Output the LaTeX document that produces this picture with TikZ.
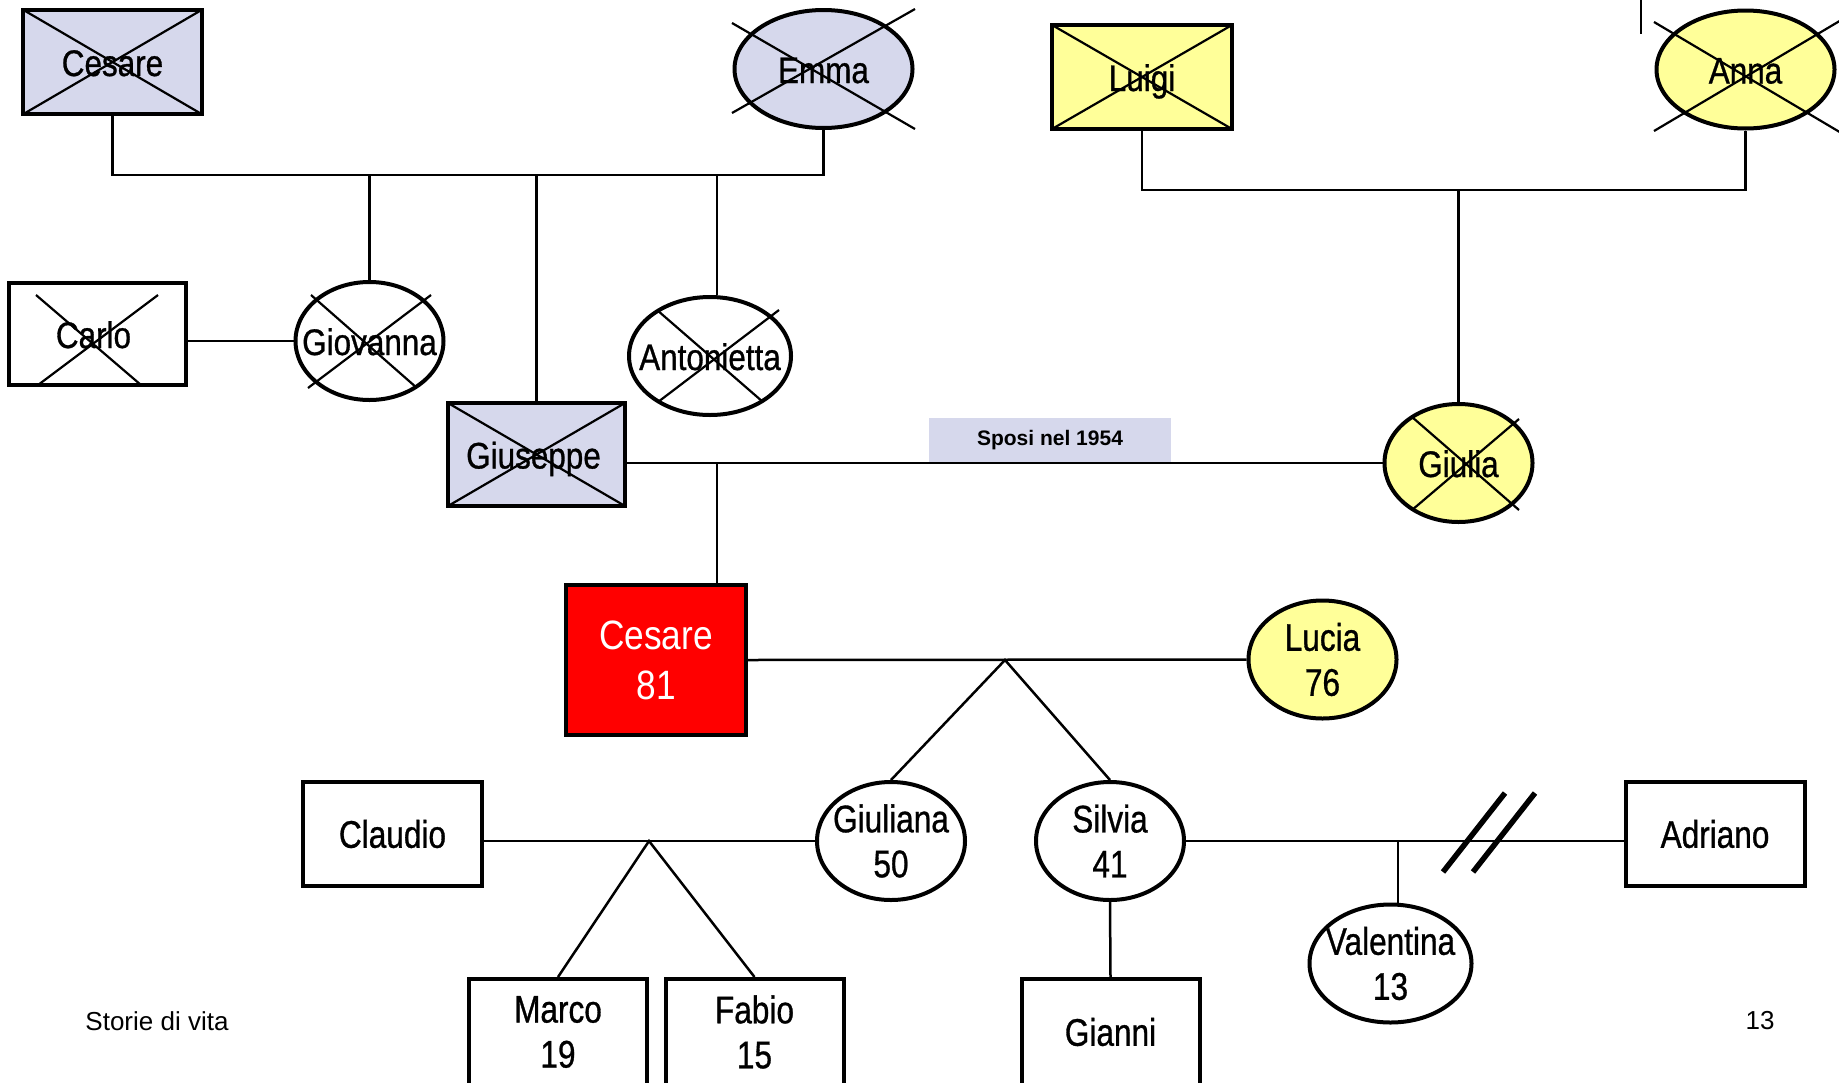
\documentclass[tikz,border=0pt]{standalone}
\usepackage{fontspec}
\setmainfont{Liberation Sans}
\newfontfamily\namefont[FakeStretch=0.85,FakeBold=0.8]{Liberation Sans}
\newfontfamily\lownamefont[FakeStretch=0.82,FakeBold=0.8]{Liberation Sans}
\newfontfamily\redfont[FakeStretch=0.86]{Liberation Sans}
\usetikzlibrary{shapes.geometric,calc}
\definecolor{lav}{RGB}{214,216,236}
\definecolor{yel}{RGB}{255,255,153}
\definecolor{redc}{RGB}{255,0,0}
\begin{document}
\begin{tikzpicture}[x=1pt,y=-1pt,
  male/.style={draw,rectangle,line width=4pt,inner sep=0pt,minimum width=179pt,minimum height=104pt,align=center},
  fem/.style={draw,ellipse,line width=4pt,inner sep=0pt,minimum width=148pt,minimum height=118pt},
  upname/.style={font=\namefont\fontsize{37}{44}\selectfont,inner sep=0pt,text height=28pt,text depth=0pt},
  lowname/.style={font=\lownamefont\fontsize{38.5}{45}\selectfont,inner sep=0pt,align=center},
  conn/.style={line width=2.5pt},
  xline/.style={line width=2.2pt},
  divline/.style={line width=5.5pt},
  small/.style={font=\fontsize{26}{30}\selectfont,inner sep=0pt}
]
\useasboundingbox[fill=white] (0,0) rectangle (1839,1082);

% ---- nodes: shapes ----
\node[male,fill=lav,upname] (cesT) at (112.5,62) {Cesare};
\node[fem,fill=lav,minimum width=178pt] (emma) at (823.5,69) {};
\node[male,minimum width=177pt,minimum height=102pt] (carlo) at (97.5,334) {};
\node[fem] (giov) at (369.5,341) {};
\node[fem,minimum width=162pt] (anto) at (710,356) {};
\node[male,fill=lav,minimum width=177pt,minimum height=103pt] (gius) at (536.5,454.5) {};
\node[male,fill=yel,minimum width=180pt,upname] (luigi) at (1142,77) {Luigi};
\node[fem,fill=yel,minimum width=178pt] (anna) at (1745.5,69.5) {};
\node[fem,fill=yel] (giulia) at (1458.5,463) {};

\node[male,fill=redc,minimum width=180pt,minimum height=150pt,text=white,
      font=\redfont\fontsize{41}{50}\selectfont] (cesR) at (656,660) {Cesare\\81};
\node[fem,fill=yel] (lucia) at (1322.5,659.5) {};
\node[male,lowname] (claudio) at (392.5,834) {Claudio};
\node[fem] (giuliana) at (891,841) {};
\node[fem] (silvia) at (1110,841) {};
\node[male,lowname] (adriano) at (1715,834) {Adriano};
\node[fem,minimum width=162pt] (valentina) at (1390.5,963.5) {};
\node[male,lowname,minimum width=178pt,minimum height=106pt] (marco) at (558,1032) {Marco\\19};
\node[male,lowname,minimum width=178pt,minimum height=106pt] (fabio) at (754.5,1032) {Fabio\\15};
\node[male,lowname,minimum width=178pt,minimum height=106pt] (gianni) at (1110.5,1032) {Gianni};

% ---- crosses ----
\draw[xline] ([shift={(-89,-52)}]cesT.center) -- ([shift={(89,52)}]cesT.center);
\draw[xline] ([shift={(-89,52)}]cesT.center) -- ([shift={(89,-52)}]cesT.center);
\draw[xline] ([shift={(-91.5,-46)}]emma.center) -- ([shift={(91.5,60)}]emma.center);
\draw[xline] ([shift={(-91.5,44)}]emma.center) -- ([shift={(91.5,-60)}]emma.center);
\draw[xline] ([shift={(-61.5,-39)}]carlo.center) -- ([shift={(43.5,51)}]carlo.center);
\draw[xline] ([shift={(60.5,-39)}]carlo.center) -- ([shift={(-59.5,51)}]carlo.center);
\draw[xline] ([shift={(-58.5,-46)}]giov.center) -- ([shift={(47.5,47)}]giov.center);
\draw[xline] ([shift={(61.5,-46)}]giov.center) -- ([shift={(-61.5,47)}]giov.center);
\draw[xline] ([shift={(-53,-46)}]anto.center) -- ([shift={(53,46)}]anto.center);
\draw[xline] ([shift={(69,-46)}]anto.center) -- ([shift={(-52,46)}]anto.center);
\draw[xline] ([shift={(-88.5,-51.5)}]gius.center) -- ([shift={(88.5,51.5)}]gius.center);
\draw[xline] ([shift={(-88.5,51.5)}]gius.center) -- ([shift={(88.5,-51.5)}]gius.center);
\draw[xline] ([shift={(-90,-52)}]luigi.center) -- ([shift={(90,52)}]luigi.center);
\draw[xline] ([shift={(-90,52)}]luigi.center) -- ([shift={(90,-52)}]luigi.center);
\draw[xline] ([shift={(-91.5,-47.5)}]anna.center) -- ([shift={(100,66)}]anna.center);
\draw[xline] ([shift={(-91.5,61.5)}]anna.center) -- ([shift={(100,-52)}]anna.center);
\draw[xline] ([shift={(-46.5,-46)}]giulia.center) -- ([shift={(60.5,47)}]giulia.center);
\draw[xline] ([shift={(60.5,-44)}]giulia.center) -- ([shift={(-46.5,47)}]giulia.center);

% ---- names drawn over shapes ----
\node[upname] (carloT) at ([xshift=-4pt]carlo.center) {Carlo};
\node[upname] (giusT) at ([xshift=-3pt]gius.center) {Giuseppe};
\node[upname] (emmaT) at (emma) {Emma};
\node[upname] (giovT) at (giov) {Giovanna};
\node[upname] (antoT) at (anto) {Antonietta};
\node[upname] (annaT) at (anna) {Anna};
\node[upname] (giuliaT) at (giulia) {Giulia};
\node[lowname] (luciaT) at (lucia) {Lucia\\76};
\node[lowname] (giulianaT) at (giuliana) {Giuliana\\50};
\node[lowname] (silviaT) at (silvia) {Silvia\\41};
\node[lowname] (valentinaT) at (valentina) {Valentina\\13};

% ---- connectors ----
\coordinate (jA) at (536.5,175);
\draw[conn] (cesT.south) |- (jA) -| (emma.south);
\draw[conn] (giov.north |- jA) -- (giov.north);
\draw[conn] (jA) -- (gius.north);
\coordinate (antoTop) at ([xshift=7pt]anto.north);
\draw[conn] (antoTop |- jA) -- (antoTop);
\draw[conn] (carlo.east |- giov.west) -- (giov.west);

\coordinate (jB) at (1458.5,190);
\draw[conn] (luigi.south) |- (jB) -| (anna.south);
\draw[conn] (jB) -- (giulia.north);

\coordinate (mB) at (717,463);
\draw[conn] (gius.east |- mB) -- (giulia.west);
\node[fill=lav,minimum width=242pt,minimum height=44pt,inner sep=0pt,
      font=\bfseries\fontsize{21}{25}\selectfont] (sposi) at (1050,440) {Sposi nel 1954};
\draw[conn] (mB) -- (mB |- cesR.north);

\draw[conn] (cesR.east) -- (lucia.west);
\coordinate (aC) at (1005,660);
\draw[conn] (giuliana.north) -- (aC) -- (silvia.north);

\draw[conn] (claudio.east |- giuliana.west) -- (giuliana.west);
\coordinate (aD) at (649,841);
\draw[conn] (marco.north) -- (aD) -- (fabio.north);

\draw[conn] (silvia.east) -- (adriano.west |- silvia.east);
\coordinate (jV) at (1398,841);
\draw[conn] (jV) -- (jV |- valentina.north);
\draw[conn] (silvia.south) -- (gianni.north);

% divorce marks
\coordinate (d1a) at (1443,872); \coordinate (d1b) at (1505,793);
\coordinate (d2a) at (1473,872); \coordinate (d2b) at (1535,793);
\draw[divline] (d1a) -- (d1b);
\draw[divline] (d2a) -- (d2b);

% stray mark at top
\coordinate (st1) at (1641,0); \coordinate (st2) at (1641,34);
\draw[line width=2pt] (st1) -- (st2);

% footer
\node[small] (storie) at (157,1021) {Storie di vita};
\node[small] (pagenum) at (1760,1021) {13};
\end{tikzpicture}
\end{document}
